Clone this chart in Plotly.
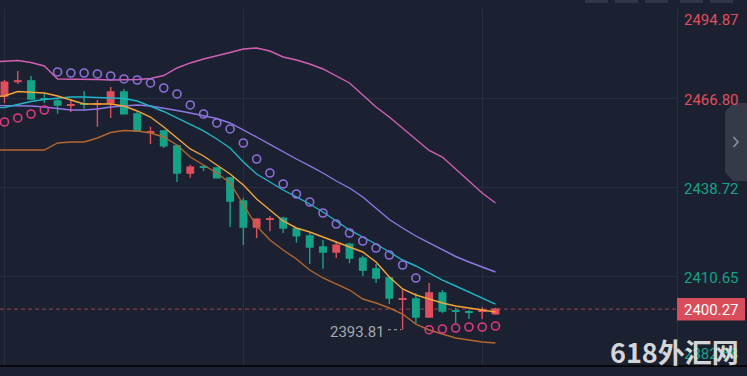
import plotly.graph_objects as go

# ---------------- data ----------------
candle_idx = list(range(38))
opens = [2467.5, 2472.1, 2472.3, 2466.7, 2466.0, 2464.6, 2465.1, 2464.9, 2465.3, 2468.8,
         2461.9, 2456.1, 2456.5, 2451.8, 2443.2, 2445.2, 2444.8, 2441.7, 2434.4, 2426.2,
         2428.6, 2429.0, 2425.7, 2423.4, 2419.9, 2418.3, 2420.8, 2416.4, 2413.0, 2410.1,
         2403.4, 2403.5, 2397.8, 2405.4, 2399.8, 2399.5, 2399.6, 2398.8]
highs = [2472.6, 2475.4, 2473.8, 2468.2, 2466.9, 2466.6, 2469.1, 2466.3, 2470.4, 2469.7,
         2462.5, 2457.8, 2456.8, 2452.1, 2445.8, 2445.8, 2445.1, 2442.0, 2435.4, 2429.0,
         2429.7, 2429.4, 2425.9, 2424.3, 2422.1, 2421.5, 2421.2, 2417.1, 2414.5, 2410.3,
         2406.6, 2405.4, 2408.5, 2406.3, 2400.7, 2400.0, 2401.0, 2400.7]
lows = [2465.3, 2471.3, 2466.3, 2465.3, 2461.9, 2462.5, 2463.4, 2457.8, 2460.6, 2461.7,
        2456.2, 2452.4, 2451.1, 2440.4, 2441.7, 2443.9, 2441.5, 2426.2, 2420.5, 2422.7,
        2424.9, 2424.3, 2421.2, 2414.5, 2413.0, 2416.4, 2414.8, 2410.7, 2408.5, 2401.9,
        2393.81, 2395.9, 2397.7, 2399.1, 2395.9, 2397.2, 2397.2, 2398.5]
closes = [2471.9, 2472.3, 2466.6, 2466.5, 2464.7, 2464.8, 2464.9, 2465.1, 2468.8, 2461.9,
          2456.5, 2456.3, 2451.8, 2443.2, 2445.1, 2445.0, 2441.7, 2434.4, 2426.2, 2428.7,
          2428.8, 2425.9, 2423.4, 2419.9, 2418.3, 2420.5, 2416.4, 2412.6, 2410.1, 2403.8,
          2403.6, 2397.8, 2405.4, 2399.7, 2399.6, 2399.3, 2399.8, 2400.27]

ind_idx = list(range(-1, 38))
boll_upper = [2478.25, 2478.57, 2478.72, 2478.09, 2476.99, 2472.89, 2472.89, 2472.89, 2472.73, 2472.57,
              2472.57, 2472.73, 2473.05, 2473.99, 2476.36, 2477.94, 2479.20, 2480.15, 2481.25, 2482.35,
              2482.67, 2481.72, 2479.83, 2478.88, 2477.62, 2476.04, 2473.84, 2471.63, 2467.84, 2464.06,
              2460.90, 2457.28, 2453.81, 2450.34, 2448.28, 2444.50, 2440.56, 2436.93, 2433.77]
boll_mid = [2464.53, 2464.53, 2464.53, 2464.37, 2464.06, 2463.58, 2463.11, 2463.11, 2463.43, 2464.06,
            2464.37, 2464.69, 2464.37, 2463.74, 2462.95, 2462.16, 2461.22, 2460.43, 2459.01, 2456.90,
            2454.59, 2452.23, 2449.86, 2447.65, 2445.45, 2443.24, 2440.71, 2438.51, 2435.67, 2432.20,
            2428.57, 2425.89, 2423.36, 2421.16, 2418.95, 2416.90, 2415.16, 2413.59, 2412.01]
boll_lower = [2450.49, 2450.49, 2450.49, 2450.49, 2450.49, 2452.70, 2453.02, 2453.02, 2454.28, 2456.01,
              2456.64, 2456.49, 2455.86, 2454.59, 2452.07, 2448.28, 2445.76, 2443.24, 2440.08, 2433.14,
              2426.52, 2422.10, 2418.95, 2416.11, 2412.64, 2410.12, 2408.22, 2406.33, 2403.49, 2402.23,
              2400.65, 2398.76, 2395.60, 2393.71, 2392.45, 2391.19, 2390.56, 2389.93, 2389.61]
ma_fast = [2467.21, 2467.53, 2468.95, 2468.79, 2468.47, 2467.53, 2466.27, 2465.00, 2465.00, 2465.00,
           2464.37, 2462.80, 2460.90, 2457.75, 2454.28, 2450.81, 2448.60, 2445.76, 2442.92, 2439.45,
           2435.04, 2431.57, 2428.10, 2425.89, 2424.63, 2423.05, 2421.47, 2419.89, 2418.32, 2415.16,
           2410.43, 2406.65, 2404.75, 2403.49, 2402.23, 2401.28, 2400.65, 2400.02, 2399.39]
ma_slow = [2463.74, 2463.90, 2464.85, 2465.79, 2466.42, 2466.90, 2467.21, 2467.21, 2467.05, 2466.90,
           2466.74, 2465.95, 2464.37, 2462.64, 2460.59, 2458.54, 2456.49, 2453.96, 2451.12, 2446.71,
           2442.92, 2440.40, 2437.87, 2435.67, 2433.46, 2430.93, 2428.10, 2425.26, 2423.05, 2420.84,
           2418.32, 2415.79, 2413.90, 2411.69, 2409.48, 2407.59, 2405.70, 2403.81, 2401.91]
sar = [2459.32, 2460.59, 2461.85, 2463.11, 2475.10, 2474.78, 2474.78, 2474.47, 2473.84, 2472.89,
       2472.57, 2471.63, 2470.05, 2468.16, 2464.69, 2461.85, 2459.01, 2457.12, 2452.70, 2447.65,
       2443.24, 2439.77, 2436.61, 2434.09, 2430.62, 2427.15, 2424.31, 2421.79, 2419.58, 2417.37,
       2414.22, 2410.12, 2393.81, 2394.03, 2394.34, 2394.66, 2394.66, 2394.97]

axis_ticks = [2494.87, 2466.80, 2438.72, 2410.65, 2382.58]
grid_candles = [0, 18, 36]
last_price = closes[-1]

# ---------------- style ----------------
W, H = 747, 376
PL, PR, PT, PB = 0, 70, 9, 10
PW, PH = W - PL - PR, H - PT - PB
BG = "#1b2130"
GRID = "#272f3e"
RED = "#e04f5d"
GREEN = "#14a387"
SPACING = 13.27
FIRST = 4.5

def pxx(px):
    return (px - PL) / PW

def pxy(py):
    return (H - PB - py) / PH

y_per_px = (axis_ticks[0] - axis_ticks[-1]) / 356.0
y_min = axis_ticks[-1] - 0.7 * y_per_px
y_max = axis_ticks[0] + 0.3 * y_per_px
x_min = -FIRST / SPACING
x_max = (PW - FIRST) / SPACING

def val2py(v):
    return PT + (y_max - v) / (y_max - y_min) * PH

fig = go.Figure()

fig.add_trace(go.Candlestick(
    x=candle_idx, open=opens, high=highs, low=lows, close=closes,
    increasing=dict(line=dict(color=RED, width=1.4), fillcolor=RED),
    decreasing=dict(line=dict(color=GREEN, width=1.4), fillcolor=GREEN),
    whiskerwidth=0, showlegend=False, hoverinfo="skip"))

line_specs = [
    (boll_lower, "#b4662e"),
    (boll_upper, "#d35fb4"),
    (boll_mid, "#8f78e6"),
    (ma_slow, "#1fb5c8"),
    (ma_fast, "#f3a43a"),
]
for vals, col in line_specs:
    fig.add_trace(go.Scatter(x=ind_idx, y=vals, mode="lines",
                             line=dict(color=col, width=1.4),
                             showlegend=False, hoverinfo="skip"))

sar_above_x = [i for i in candle_idx if sar[i] > highs[i]]
sar_above_y = [sar[i] for i in sar_above_x]
sar_below_x = [i for i in candle_idx if sar[i] <= highs[i]]
sar_below_y = [sar[i] for i in sar_below_x]
fig.add_trace(go.Scatter(x=sar_above_x, y=sar_above_y, mode="markers",
                         marker=dict(symbol="circle-open", size=8, color="#8d70dc",
                                     line=dict(width=1.6)),
                         showlegend=False, hoverinfo="skip"))
fig.add_trace(go.Scatter(x=sar_below_x, y=sar_below_y, mode="markers",
                         marker=dict(symbol="circle-open", size=8, color="#e03a82",
                                     line=dict(width=1.6)),
                         showlegend=False, hoverinfo="skip"))

shapes = []
annotations = []

# current price dashed line
shapes.append(dict(type="line", xref="paper", yref="y", x0=0, x1=1,
                   y0=last_price, y1=last_price,
                   line=dict(color="rgba(224,79,93,0.55)", width=1.2, dash="4px,3px"),
                   layer="below"))

# bottom separator
shapes.append(dict(type="line", xref="paper", yref="paper", x0=pxx(0), x1=pxx(W),
                   y0=pxy(366), y1=pxy(366), line=dict(color="#000000", width=1.5)))

# current price box
shapes.append(dict(type="rect", xref="paper", yref="paper",
                   x0=pxx(677), x1=pxx(745),
                   y0=pxy(val2py(last_price) + 11.3), y1=pxy(val2py(last_price) - 11.3),
                   fillcolor="#d94d5b", line=dict(width=0)))

# lowest price marker
low_i = min(candle_idx, key=lambda i: lows[i])
low_v = lows[low_i]
shapes.append(dict(type="line", xref="x", yref="y", x0=low_i - 1.1, x1=low_i - 0.1,
                   y0=low_v, y1=low_v,
                   line=dict(color="#a5a9b2", width=1, dash="dot")))
annotations.append(dict(xref="x", yref="y", x=low_i - 1.2, y=low_v, yshift=-2.5,
                        text=f"{low_v:.2f}", showarrow=False, xanchor="right",
                        yanchor="middle",
                        font=dict(family="Roboto", size=15, color="#a5a9b2")))

# right axis labels
label_cols = [RED, RED, GREEN, GREEN, GREEN]
for v, c in zip(axis_ticks, label_cols):
    py = val2py(v) + 1.5
    py = min(max(py, 20), 354)
    annotations.append(dict(xref="paper", yref="paper", x=pxx(682), y=pxy(py),
                            text=f"{v:.2f}", showarrow=False, xanchor="left",
                            yanchor="middle",
                            font=dict(family="Roboto", size=15, color=c)))
annotations.append(dict(xref="paper", yref="paper", x=pxx(682),
                        y=pxy(val2py(last_price) + 0.5),
                        text=f"{last_price:.2f}", showarrow=False, xanchor="left",
                        yanchor="middle",
                        font=dict(family="Roboto", size=15, color="#ffffff")))

# side collapse tab
tab = [(747, 103), (733, 103), (725, 112), (725, 172), (733, 181), (747, 181)]
path = "M " + " L ".join(f"{pxx(a):.5f},{pxy(b):.5f}" for a, b in tab) + " Z"
shapes.append(dict(type="path", xref="paper", yref="paper", path=path,
                   fillcolor="#343a48", line=dict(width=0)))
chev = [(733.5, 137), (738, 142), (733.5, 147)]
cpath = "M " + " L ".join(f"{pxx(a):.5f},{pxy(b):.5f}" for a, b in chev)
shapes.append(dict(type="path", xref="paper", yref="paper", path=cpath,
                   line=dict(color="#8e95a3", width=1.5)))

# top toolbar buttons (cut off)
for x0, x1 in [(585, 608), (615, 638), (645, 668), (680, 703), (710, 733)]:
    shapes.append(dict(type="rect", xref="paper", yref="paper",
                       x0=pxx(x0), x1=pxx(x1), y0=pxy(3), y1=pxy(-6),
                       fillcolor="#2f3645", line=dict(width=0)))

# watermark
annotations.append(dict(xref="paper", yref="paper", x=pxx(741), y=pxy(351),
                        text="<b>618外汇网</b>", showarrow=False, xanchor="right",
                        yanchor="middle",
                        font=dict(family="Noto Sans CJK SC", size=27,
                                  color="rgba(232,232,232,0.93)")))

fig.update_layout(
    width=W, height=H,
    margin=dict(l=PL, r=PR, t=PT, b=PB, pad=0),
    paper_bgcolor=BG, plot_bgcolor=BG,
    shapes=shapes, annotations=annotations,
    showlegend=False,
    xaxis=dict(range=[x_min, x_max], showticklabels=False, ticks="",
               tickvals=grid_candles, showgrid=True, gridcolor=GRID, gridwidth=1,
               zeroline=False, showline=False, rangeslider=dict(visible=False),
               fixedrange=True),
    yaxis=dict(range=[y_min, y_max], side="right", showticklabels=False, ticks="",
               tickvals=axis_ticks, showgrid=True, gridcolor=GRID, gridwidth=1,
               zeroline=False, showline=True, linecolor=GRID, linewidth=1,
               mirror=False, fixedrange=True),
)

fig.write_html(
    "out.html",
    config={"displayModeBar": False},
    post_script="document.body.style.margin='0';document.body.style.padding='0';"
                "document.body.style.overflow='hidden';"
                "document.body.style.background='#1b2130';",
)
